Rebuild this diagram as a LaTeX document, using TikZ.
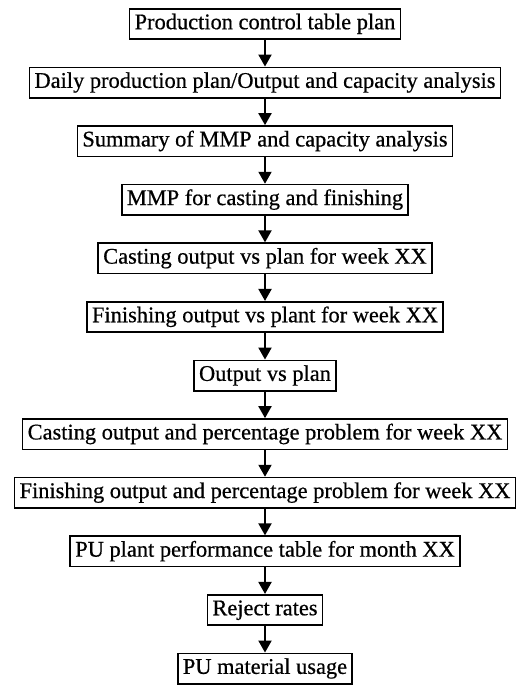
\documentclass[tikz,border=0pt]{standalone}
\usepackage{fontspec}
\setmainfont{Liberation Serif}
\newfontfamily\boxfont{Liberation Serif}[FakeBold=0.6]
\usepackage{tikz}
\usetikzlibrary{positioning}
\usetikzlibrary{arrows.meta}
\def\BoxGap{26.5pt}
\def\BoxX{265pt}

\begin{document}
\begin{tikzpicture}[x=1pt,y=1pt,
		stepbox/.style={draw,line width=1.6pt,inner xsep=5pt,inner ysep=5pt,
			text height=15.5pt,text depth=5pt,font=\boxfont\fontsize{22.4}{24}\selectfont},
		flow/.style={line width=2pt,-{Triangle[width=13pt,length=12pt]}},
		node distance=\BoxGap]
	\useasboundingbox (0,0) rectangle (515,-687);
	% 
	\node[stepbox] (pct) at (\BoxX,-24) {Production control table plan};
	\node[stepbox,below=of pct] (dpp) {Daily production plan/Output and capacity analysis};
	\node[stepbox,below=of dpp] (smc) {Summary of MMP and capacity analysis};
	\node[stepbox,below=of smc] (mmp) {MMP for casting and finishing};
	\node[stepbox,below=of mmp] (cop) {Casting output vs plan for week XX};
	\node[stepbox,below=of cop] (fop) {Finishing output vs plant for week XX};
	\node[stepbox,below=of fop] (ovp) {Output vs plan};
	\node[stepbox,below=of ovp] (cpp) {Casting output and percentage problem for week XX};
	\node[stepbox,below=of cpp] (fpp) {Finishing output and percentage problem for week XX};
	\node[stepbox,below=of fpp] (ppt) {PU plant performance table for month XX};
	\node[stepbox,below=of ppt] (rjr) {Reject rates};
	\node[stepbox,below=of rjr] (pmu) {PU material usage};
	% 
	\draw[flow] (pct) -- (dpp);
	\draw[flow] (dpp) -- (smc);
	\draw[flow] (smc) -- (mmp);
	\draw[flow] (mmp) -- (cop);
	\draw[flow] (cop) -- (fop);
	\draw[flow] (fop) -- (ovp);
	\draw[flow] (ovp) -- (cpp);
	\draw[flow] (cpp) -- (fpp);
	\draw[flow] (fpp) -- (ppt);
	\draw[flow] (ppt) -- (rjr);
	\draw[flow] (rjr) -- (pmu);
\end{tikzpicture}
\end{document}
